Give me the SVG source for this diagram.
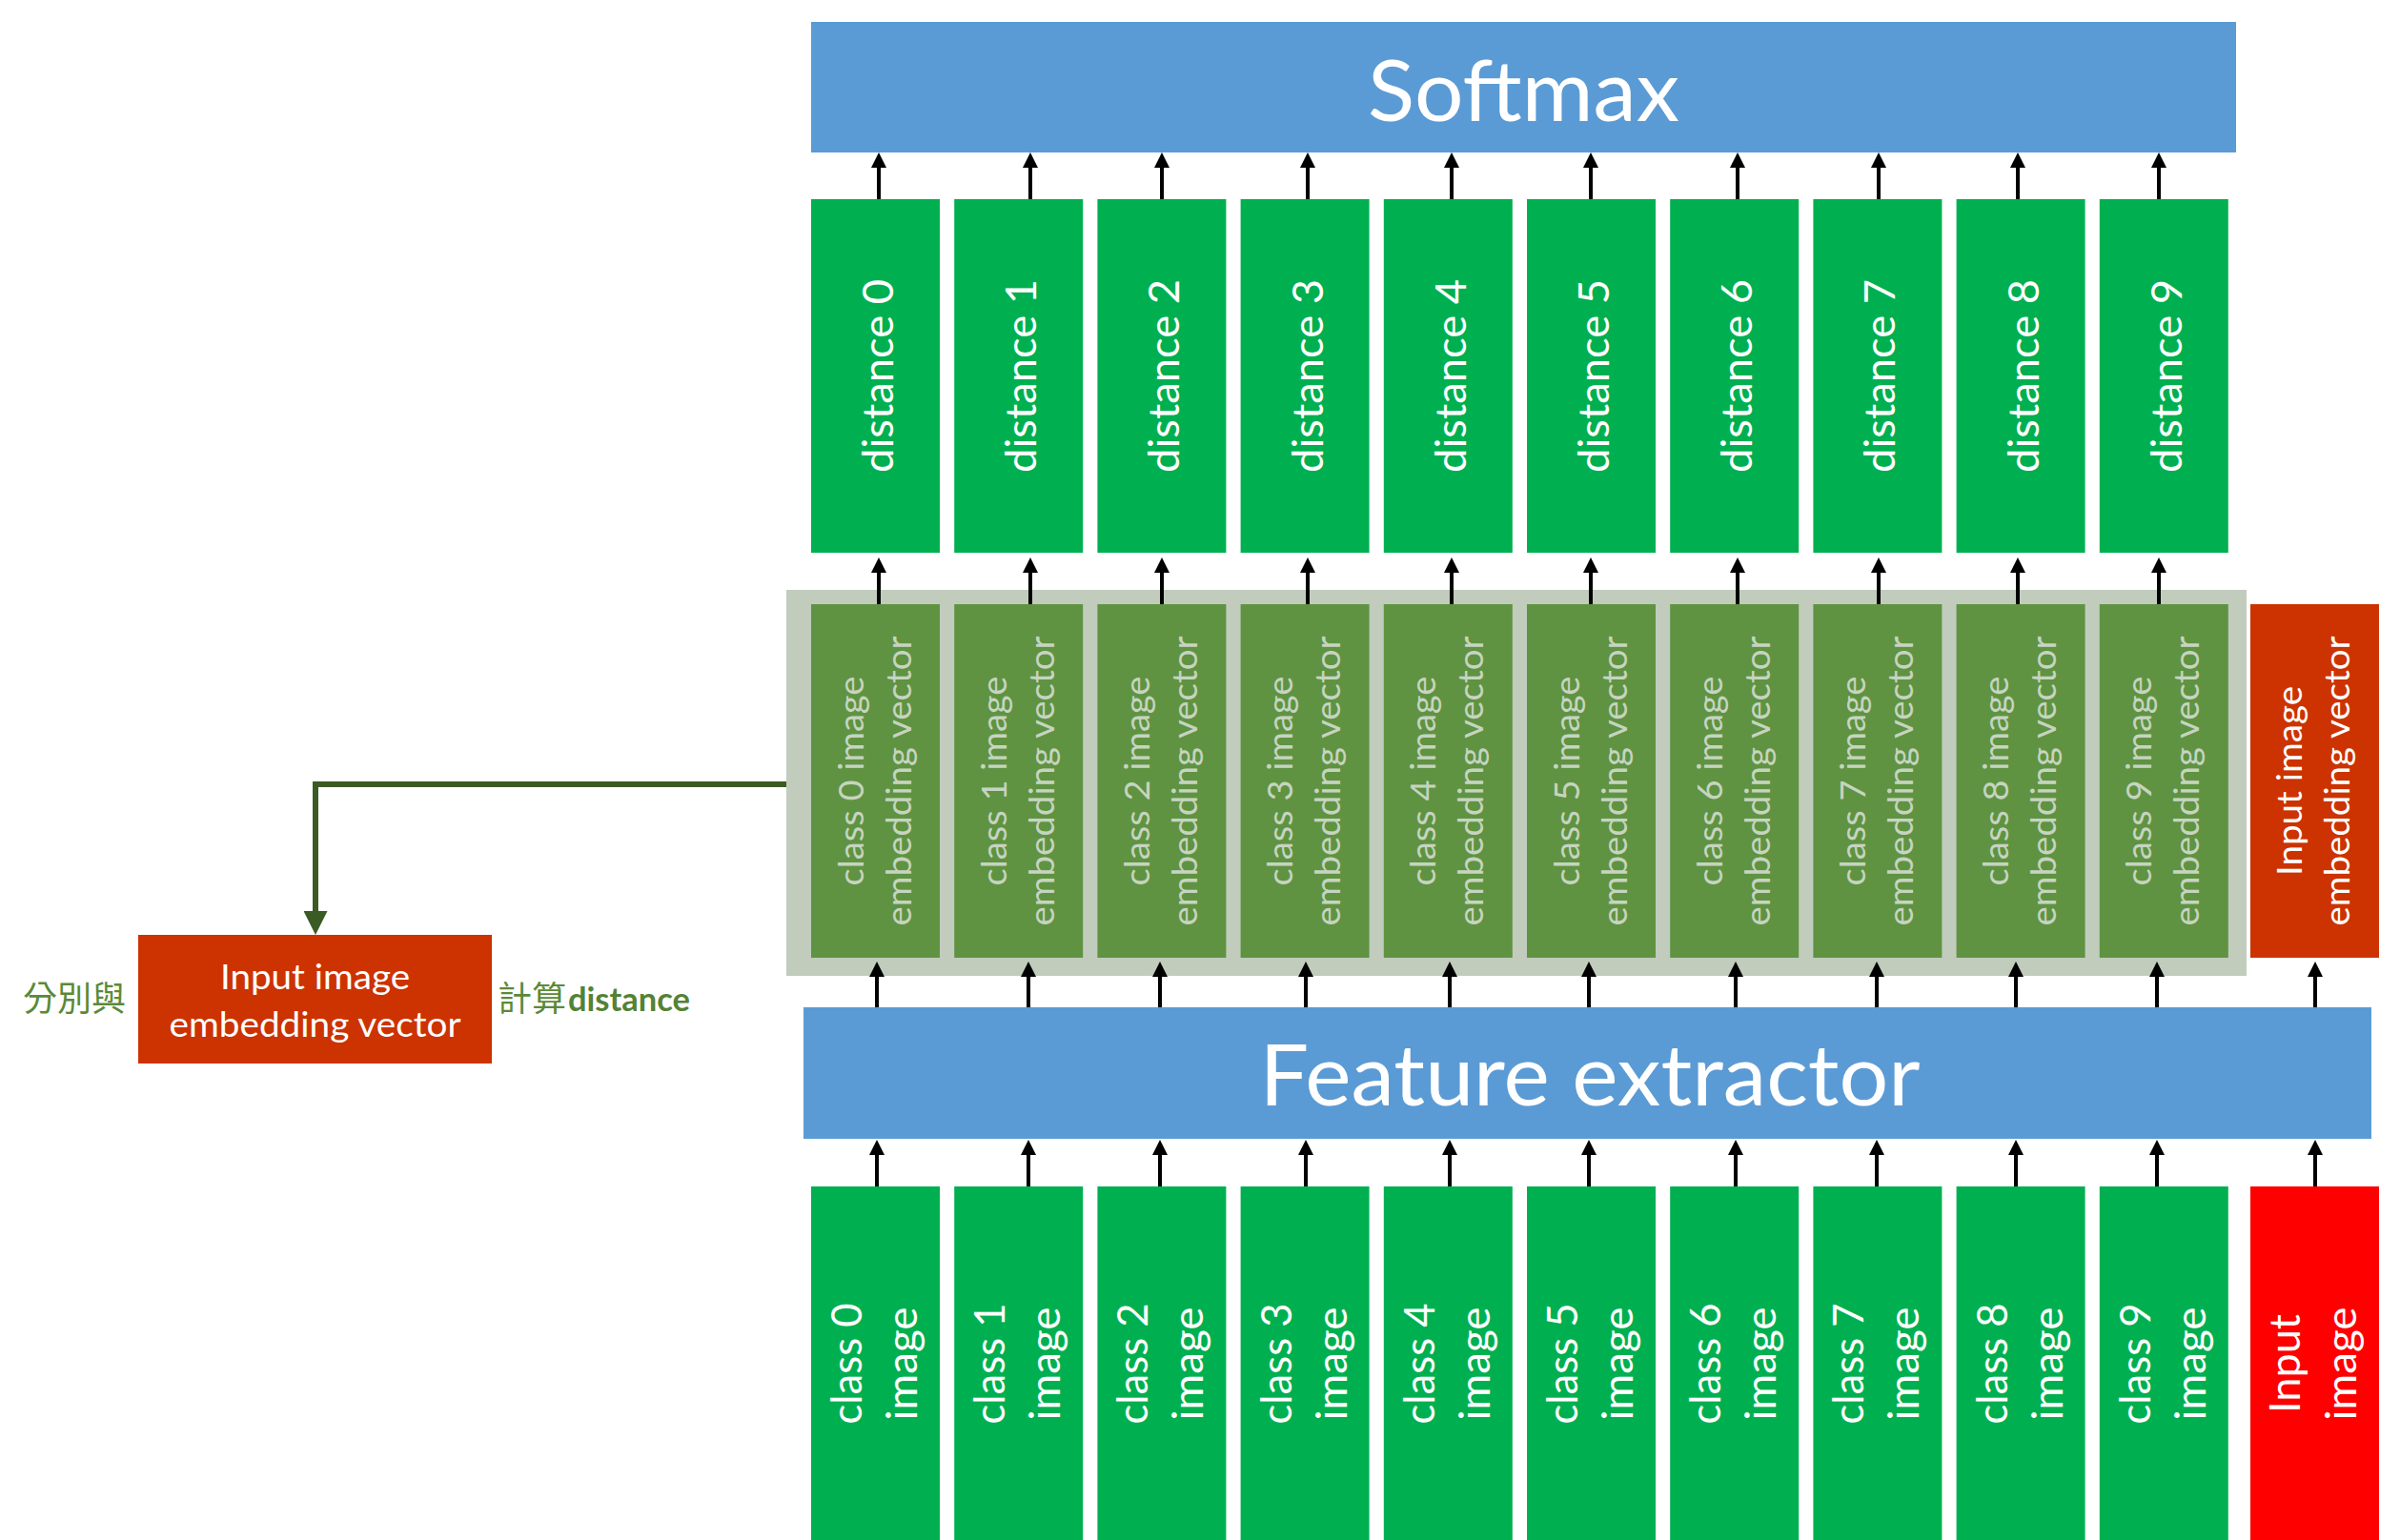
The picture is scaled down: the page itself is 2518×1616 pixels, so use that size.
<svg xmlns="http://www.w3.org/2000/svg" width="2518" height="1616" viewBox="0 0 2518 1616">
<defs>
<style>
.blue{fill:#5B9BD5}
.dist{fill:#00B050}
.emb{fill:#5F9341}
.cont{fill:#C1CCBD}
.redemb{fill:#CC3300}
.red{fill:#FF0000}
text{font-family:Lato,"Liberation Sans",sans-serif;text-anchor:middle}
.wt{fill:#FFFFFF}
.gt{fill:#C6D4C0}
.big{font-size:90px}
.t45{font-size:45px}
.t44{font-size:44px}
.t38{font-size:37.5px}
.cjk{font-family:"Noto Sans CJK TC","Noto Sans CJK SC",sans-serif;font-size:36px;fill:#5A8A38;text-anchor:start}
.bold{font-weight:bold;font-size:34px;fill:#548235;text-anchor:start}
.arr{stroke:#000000;stroke-width:4;fill:none}
.garr{stroke:#3B5B25;stroke-width:6;fill:none}
</style>
<marker id="ah" markerUnits="userSpaceOnUse" markerWidth="16" markerHeight="16" refX="5" refY="8" orient="auto" viewBox="0 0 16 16">
<path d="M0,0 L16,8 L0,16 z" fill="#000000"/>
</marker>
<marker id="gah" markerUnits="userSpaceOnUse" markerWidth="25" markerHeight="25" refX="5" refY="12.5" orient="auto" viewBox="0 0 25 25">
<path d="M0,0 L25,12.5 L0,25 z" fill="#3B5B25"/>
</marker>
</defs>
<rect width="2518" height="1616" fill="#FFFFFF"/>

<g id="softmax">
<rect class="blue" x="851" y="23" width="1495" height="137"/>
<text class="wt big" x="1598.5" y="127" textLength="327" lengthAdjust="spacingAndGlyphs">Softmax</text>
</g>

<g id="embedding-container">
<rect class="cont" x="825" y="619" width="1532" height="405"/>
</g>

<g id="feature-extractor">
<rect class="blue" x="843" y="1057" width="1645" height="138"/>
<text class="wt big" x="1668" y="1160" textLength="693" lengthAdjust="spacingAndGlyphs">Feature extractor</text>
</g>

<g id="distance-0"><rect class="dist" x="851" y="209" width="135" height="371"/><text class="wt t45" transform="translate(937,394.5) rotate(-90)" textLength="203" lengthAdjust="spacingAndGlyphs">distance 0</text></g>
<g id="distance-1"><rect class="dist" x="1001.2" y="209" width="135" height="371"/><text class="wt t45" transform="translate(1087.2,394.5) rotate(-90)" textLength="203" lengthAdjust="spacingAndGlyphs">distance 1</text></g>
<g id="distance-2"><rect class="dist" x="1151.4" y="209" width="135" height="371"/><text class="wt t45" transform="translate(1237.4,394.5) rotate(-90)" textLength="203" lengthAdjust="spacingAndGlyphs">distance 2</text></g>
<g id="distance-3"><rect class="dist" x="1301.6" y="209" width="135" height="371"/><text class="wt t45" transform="translate(1387.6,394.5) rotate(-90)" textLength="203" lengthAdjust="spacingAndGlyphs">distance 3</text></g>
<g id="distance-4"><rect class="dist" x="1451.8" y="209" width="135" height="371"/><text class="wt t45" transform="translate(1537.8,394.5) rotate(-90)" textLength="203" lengthAdjust="spacingAndGlyphs">distance 4</text></g>
<g id="distance-5"><rect class="dist" x="1602" y="209" width="135" height="371"/><text class="wt t45" transform="translate(1688,394.5) rotate(-90)" textLength="203" lengthAdjust="spacingAndGlyphs">distance 5</text></g>
<g id="distance-6"><rect class="dist" x="1752.2" y="209" width="135" height="371"/><text class="wt t45" transform="translate(1838.2,394.5) rotate(-90)" textLength="203" lengthAdjust="spacingAndGlyphs">distance 6</text></g>
<g id="distance-7"><rect class="dist" x="1902.4" y="209" width="135" height="371"/><text class="wt t45" transform="translate(1988.4,394.5) rotate(-90)" textLength="203" lengthAdjust="spacingAndGlyphs">distance 7</text></g>
<g id="distance-8"><rect class="dist" x="2052.6" y="209" width="135" height="371"/><text class="wt t45" transform="translate(2138.6,394.5) rotate(-90)" textLength="203" lengthAdjust="spacingAndGlyphs">distance 8</text></g>
<g id="distance-9"><rect class="dist" x="2202.8" y="209" width="135" height="371"/><text class="wt t45" transform="translate(2288.8,394.5) rotate(-90)" textLength="203" lengthAdjust="spacingAndGlyphs">distance 9</text></g>

<g id="embedding-0"><rect class="emb" x="851" y="634" width="135" height="371"/><text class="gt t38" transform="translate(905.5,819.5) rotate(-90)" textLength="220" lengthAdjust="spacingAndGlyphs">class 0 image</text><text class="gt t38" transform="translate(955.5,819.5) rotate(-90)" textLength="304" lengthAdjust="spacingAndGlyphs">embedding vector</text></g>
<g id="embedding-1"><rect class="emb" x="1001.2" y="634" width="135" height="371"/><text class="gt t38" transform="translate(1055.7,819.5) rotate(-90)" textLength="220" lengthAdjust="spacingAndGlyphs">class 1 image</text><text class="gt t38" transform="translate(1105.7,819.5) rotate(-90)" textLength="304" lengthAdjust="spacingAndGlyphs">embedding vector</text></g>
<g id="embedding-2"><rect class="emb" x="1151.4" y="634" width="135" height="371"/><text class="gt t38" transform="translate(1205.9,819.5) rotate(-90)" textLength="220" lengthAdjust="spacingAndGlyphs">class 2 image</text><text class="gt t38" transform="translate(1255.9,819.5) rotate(-90)" textLength="304" lengthAdjust="spacingAndGlyphs">embedding vector</text></g>
<g id="embedding-3"><rect class="emb" x="1301.6" y="634" width="135" height="371"/><text class="gt t38" transform="translate(1356.1,819.5) rotate(-90)" textLength="220" lengthAdjust="spacingAndGlyphs">class 3 image</text><text class="gt t38" transform="translate(1406.1,819.5) rotate(-90)" textLength="304" lengthAdjust="spacingAndGlyphs">embedding vector</text></g>
<g id="embedding-4"><rect class="emb" x="1451.8" y="634" width="135" height="371"/><text class="gt t38" transform="translate(1506.3,819.5) rotate(-90)" textLength="220" lengthAdjust="spacingAndGlyphs">class 4 image</text><text class="gt t38" transform="translate(1556.3,819.5) rotate(-90)" textLength="304" lengthAdjust="spacingAndGlyphs">embedding vector</text></g>
<g id="embedding-5"><rect class="emb" x="1602" y="634" width="135" height="371"/><text class="gt t38" transform="translate(1656.5,819.5) rotate(-90)" textLength="220" lengthAdjust="spacingAndGlyphs">class 5 image</text><text class="gt t38" transform="translate(1706.5,819.5) rotate(-90)" textLength="304" lengthAdjust="spacingAndGlyphs">embedding vector</text></g>
<g id="embedding-6"><rect class="emb" x="1752.2" y="634" width="135" height="371"/><text class="gt t38" transform="translate(1806.7,819.5) rotate(-90)" textLength="220" lengthAdjust="spacingAndGlyphs">class 6 image</text><text class="gt t38" transform="translate(1856.7,819.5) rotate(-90)" textLength="304" lengthAdjust="spacingAndGlyphs">embedding vector</text></g>
<g id="embedding-7"><rect class="emb" x="1902.4" y="634" width="135" height="371"/><text class="gt t38" transform="translate(1956.9,819.5) rotate(-90)" textLength="220" lengthAdjust="spacingAndGlyphs">class 7 image</text><text class="gt t38" transform="translate(2006.9,819.5) rotate(-90)" textLength="304" lengthAdjust="spacingAndGlyphs">embedding vector</text></g>
<g id="embedding-8"><rect class="emb" x="2052.6" y="634" width="135" height="371"/><text class="gt t38" transform="translate(2107.1,819.5) rotate(-90)" textLength="220" lengthAdjust="spacingAndGlyphs">class 8 image</text><text class="gt t38" transform="translate(2157.1,819.5) rotate(-90)" textLength="304" lengthAdjust="spacingAndGlyphs">embedding vector</text></g>
<g id="embedding-9"><rect class="emb" x="2202.8" y="634" width="135" height="371"/><text class="gt t38" transform="translate(2257.3,819.5) rotate(-90)" textLength="220" lengthAdjust="spacingAndGlyphs">class 9 image</text><text class="gt t38" transform="translate(2307.3,819.5) rotate(-90)" textLength="304" lengthAdjust="spacingAndGlyphs">embedding vector</text></g>
<g id="input-embedding"><rect class="redemb" x="2361" y="634" width="135" height="371"/><text class="wt t38" transform="translate(2415,819.5) rotate(-90)" textLength="199" lengthAdjust="spacingAndGlyphs">Input image</text><text class="wt t38" transform="translate(2465,819.5) rotate(-90)" textLength="304" lengthAdjust="spacingAndGlyphs">embedding vector</text></g>

<g id="image-0"><rect class="dist" x="851" y="1245" width="135" height="371"/><text class="wt t44" transform="translate(904,1431) rotate(-90)" textLength="127" lengthAdjust="spacingAndGlyphs">class 0</text><text class="wt t44" transform="translate(962,1431) rotate(-90)" textLength="119" lengthAdjust="spacingAndGlyphs">image</text></g>
<g id="image-1"><rect class="dist" x="1001.2" y="1245" width="135" height="371"/><text class="wt t44" transform="translate(1054.2,1431) rotate(-90)" textLength="127" lengthAdjust="spacingAndGlyphs">class 1</text><text class="wt t44" transform="translate(1112.2,1431) rotate(-90)" textLength="119" lengthAdjust="spacingAndGlyphs">image</text></g>
<g id="image-2"><rect class="dist" x="1151.4" y="1245" width="135" height="371"/><text class="wt t44" transform="translate(1204.4,1431) rotate(-90)" textLength="127" lengthAdjust="spacingAndGlyphs">class 2</text><text class="wt t44" transform="translate(1262.4,1431) rotate(-90)" textLength="119" lengthAdjust="spacingAndGlyphs">image</text></g>
<g id="image-3"><rect class="dist" x="1301.6" y="1245" width="135" height="371"/><text class="wt t44" transform="translate(1354.6,1431) rotate(-90)" textLength="127" lengthAdjust="spacingAndGlyphs">class 3</text><text class="wt t44" transform="translate(1412.6,1431) rotate(-90)" textLength="119" lengthAdjust="spacingAndGlyphs">image</text></g>
<g id="image-4"><rect class="dist" x="1451.8" y="1245" width="135" height="371"/><text class="wt t44" transform="translate(1504.8,1431) rotate(-90)" textLength="127" lengthAdjust="spacingAndGlyphs">class 4</text><text class="wt t44" transform="translate(1562.8,1431) rotate(-90)" textLength="119" lengthAdjust="spacingAndGlyphs">image</text></g>
<g id="image-5"><rect class="dist" x="1602" y="1245" width="135" height="371"/><text class="wt t44" transform="translate(1655,1431) rotate(-90)" textLength="127" lengthAdjust="spacingAndGlyphs">class 5</text><text class="wt t44" transform="translate(1713,1431) rotate(-90)" textLength="119" lengthAdjust="spacingAndGlyphs">image</text></g>
<g id="image-6"><rect class="dist" x="1752.2" y="1245" width="135" height="371"/><text class="wt t44" transform="translate(1805.2,1431) rotate(-90)" textLength="127" lengthAdjust="spacingAndGlyphs">class 6</text><text class="wt t44" transform="translate(1863.2,1431) rotate(-90)" textLength="119" lengthAdjust="spacingAndGlyphs">image</text></g>
<g id="image-7"><rect class="dist" x="1902.4" y="1245" width="135" height="371"/><text class="wt t44" transform="translate(1955.4,1431) rotate(-90)" textLength="127" lengthAdjust="spacingAndGlyphs">class 7</text><text class="wt t44" transform="translate(2013.4,1431) rotate(-90)" textLength="119" lengthAdjust="spacingAndGlyphs">image</text></g>
<g id="image-8"><rect class="dist" x="2052.6" y="1245" width="135" height="371"/><text class="wt t44" transform="translate(2105.6,1431) rotate(-90)" textLength="127" lengthAdjust="spacingAndGlyphs">class 8</text><text class="wt t44" transform="translate(2163.6,1431) rotate(-90)" textLength="119" lengthAdjust="spacingAndGlyphs">image</text></g>
<g id="image-9"><rect class="dist" x="2202.8" y="1245" width="135" height="371"/><text class="wt t44" transform="translate(2255.8,1431) rotate(-90)" textLength="127" lengthAdjust="spacingAndGlyphs">class 9</text><text class="wt t44" transform="translate(2313.8,1431) rotate(-90)" textLength="119" lengthAdjust="spacingAndGlyphs">image</text></g>
<g id="input-image"><rect class="red" x="2361" y="1245" width="135" height="371"/><text class="wt t44" transform="translate(2413,1431) rotate(-90)" textLength="104" lengthAdjust="spacingAndGlyphs">Input</text><text class="wt t44" transform="translate(2472,1431) rotate(-90)" textLength="119" lengthAdjust="spacingAndGlyphs">image</text></g>

<g id="input-embedding-left">
<rect class="redemb" x="145" y="981" width="371" height="135"/>
<text class="wt t38" x="330.5" y="1038" textLength="199" lengthAdjust="spacingAndGlyphs">Input image</text>
<text class="wt t38" x="330.5" y="1088" textLength="306" lengthAdjust="spacingAndGlyphs">embedding vector</text>
</g>

<g id="labels">
<text class="cjk" x="24" y="1061">分別與</text>
<text class="cjk" x="522" y="1061">計算</text>
<text class="bold" x="596" y="1061" textLength="128" lengthAdjust="spacingAndGlyphs">distance</text>
</g>

<g id="connectors">
<path class="arr" marker-end="url(#ah)" d="M922,209V171"/>
<path class="arr" marker-end="url(#ah)" d="M1081,209V171"/>
<path class="arr" marker-end="url(#ah)" d="M1219,209V171"/>
<path class="arr" marker-end="url(#ah)" d="M1372,209V171"/>
<path class="arr" marker-end="url(#ah)" d="M1523,209V171"/>
<path class="arr" marker-end="url(#ah)" d="M1669,209V171"/>
<path class="arr" marker-end="url(#ah)" d="M1823,209V171"/>
<path class="arr" marker-end="url(#ah)" d="M1971,209V171"/>
<path class="arr" marker-end="url(#ah)" d="M2117,209V171"/>
<path class="arr" marker-end="url(#ah)" d="M2265,209V171"/>
<path class="arr" marker-end="url(#ah)" d="M922,634V596"/>
<path class="arr" marker-end="url(#ah)" d="M1081,634V596"/>
<path class="arr" marker-end="url(#ah)" d="M1219,634V596"/>
<path class="arr" marker-end="url(#ah)" d="M1372,634V596"/>
<path class="arr" marker-end="url(#ah)" d="M1523,634V596"/>
<path class="arr" marker-end="url(#ah)" d="M1669,634V596"/>
<path class="arr" marker-end="url(#ah)" d="M1823,634V596"/>
<path class="arr" marker-end="url(#ah)" d="M1971,634V596"/>
<path class="arr" marker-end="url(#ah)" d="M2117,634V596"/>
<path class="arr" marker-end="url(#ah)" d="M2265,634V596"/>
<path class="arr" marker-end="url(#ah)" d="M920,1057V1020"/>
<path class="arr" marker-end="url(#ah)" d="M1079,1057V1020"/>
<path class="arr" marker-end="url(#ah)" d="M1217,1057V1020"/>
<path class="arr" marker-end="url(#ah)" d="M1370,1057V1020"/>
<path class="arr" marker-end="url(#ah)" d="M1521,1057V1020"/>
<path class="arr" marker-end="url(#ah)" d="M1667,1057V1020"/>
<path class="arr" marker-end="url(#ah)" d="M1821,1057V1020"/>
<path class="arr" marker-end="url(#ah)" d="M1969,1057V1020"/>
<path class="arr" marker-end="url(#ah)" d="M2115,1057V1020"/>
<path class="arr" marker-end="url(#ah)" d="M2263,1057V1020"/>
<path class="arr" marker-end="url(#ah)" d="M2429,1057V1020"/>
<path class="arr" marker-end="url(#ah)" d="M920,1245V1207"/>
<path class="arr" marker-end="url(#ah)" d="M1079,1245V1207"/>
<path class="arr" marker-end="url(#ah)" d="M1217,1245V1207"/>
<path class="arr" marker-end="url(#ah)" d="M1370,1245V1207"/>
<path class="arr" marker-end="url(#ah)" d="M1521,1245V1207"/>
<path class="arr" marker-end="url(#ah)" d="M1667,1245V1207"/>
<path class="arr" marker-end="url(#ah)" d="M1821,1245V1207"/>
<path class="arr" marker-end="url(#ah)" d="M1969,1245V1207"/>
<path class="arr" marker-end="url(#ah)" d="M2115,1245V1207"/>
<path class="arr" marker-end="url(#ah)" d="M2263,1245V1207"/>
<path class="arr" marker-end="url(#ah)" d="M2429,1245V1207"/>
<path class="garr" marker-end="url(#gah)" d="M825,823H331V961"/>
</g>
</svg>
